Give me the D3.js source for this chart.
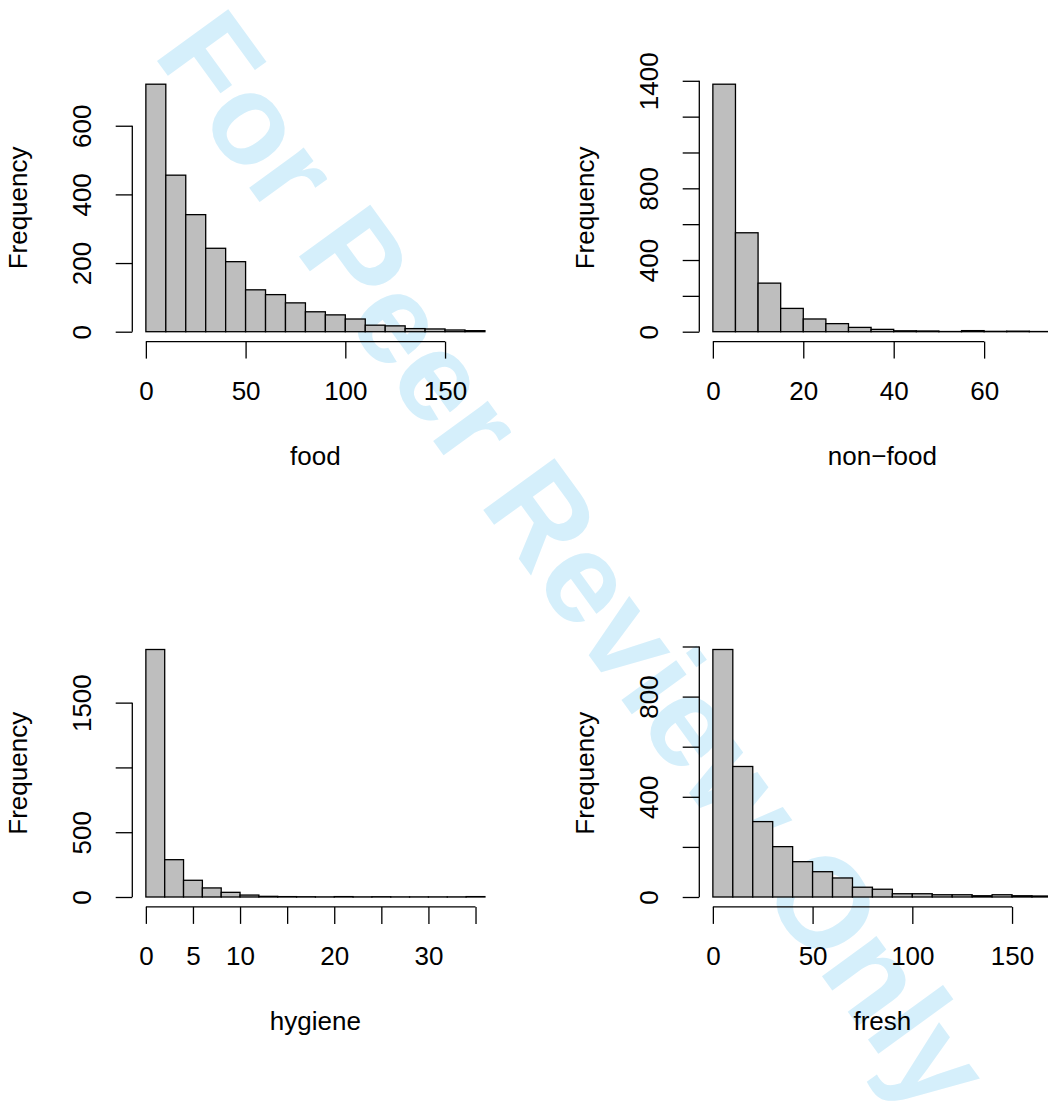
<!DOCTYPE html>
<html>
<head>
<meta charset="utf-8">
<script src="https://cdn.jsdelivr.net/npm/d3@7/dist/d3.min.js"></script>
<style>
  html, body { margin: 0; padding: 0; background: #ffffff; }
  svg { display: block; }
</style>
</head>
<body>
<svg id="chart" width="1048" height="1102"></svg>
<script>
// ---------------- DATA ----------------
const panelTitles = ["food", "non\u2212food", "hygiene", "fresh"];

const foodBreaks = [0,10,20,30,40,50,60,70,80,90,100,110,120,130,140,150,160,170];
const foodCounts = [721,456,341,243,204,122,108,84,58,49,37,19,17,9,8,5,3];
const foodXTicks = [0,50,100,150];
const foodXLabels = ["0","50","100","150"];
const foodYTicks = [0,200,400,600];
const foodYLabels = ["0","200","400","600"];

const nonfoodBreaks = [0,5,10,15,20,25,30,35,40,45,50,55,60,65,70,75];
const nonfoodCounts = [1381,552,271,130,71,45,24,13,5,4,1,6,2,3,1];
const nonfoodXTicks = [0,20,40,60];
const nonfoodXLabels = ["0","20","40","60"];
const nonfoodYTicks = [0,200,400,600,800,1000,1200,1400];
const nonfoodYLabels = ["0","","400","","800","","","1400"];

const hygieneBreaks = [0,2,4,6,8,10,12,14,16,18,20,22,24,26,28,30,32,34,36];
const hygieneCounts = [1910,288,129,70,36,15,5,3,2,1,3,1,2,1,1,1,1,3];
const hygieneXTicks = [0,5,10,15,20,25,30,35];
const hygieneXLabels = ["0","5","10","","20","","30",""];
const hygieneYTicks = [0,500,1000,1500];
const hygieneYLabels = ["0","500","","1500"];

const freshBreaks = [0,10,20,30,40,50,60,70,80,90,100,110,120,130,140,150,160,170];
const freshCounts = [988,521,301,201,141,101,76,39,31,13,13,9,9,5,9,5,4];
const freshXTicks = [0,50,100,150];
const freshXLabels = ["0","50","100","150"];
const freshYTicks = [0,200,400,600,800,1000];
const freshYLabels = ["0","","400","","800",""];

const watermarkText = "For Peer Review Only";

// ---------------- LAYOUT ----------------
const panels = [
  {title: panelTitles[0], breaks: foodBreaks, counts: foodCounts, xt: foodXTicks, xl: foodXLabels, yt: foodYTicks, yl: foodYLabels, col: 0, row: 0},
  {title: panelTitles[1], breaks: nonfoodBreaks, counts: nonfoodCounts, xt: nonfoodXTicks, xl: nonfoodXLabels, yt: nonfoodYTicks, yl: nonfoodYLabels, col: 1, row: 0},
  {title: panelTitles[2], breaks: hygieneBreaks, counts: hygieneCounts, xt: hygieneXTicks, xl: hygieneXLabels, yt: hygieneYTicks, yl: hygieneYLabels, col: 0, row: 1},
  {title: panelTitles[3], breaks: freshBreaks, counts: freshCounts, xt: freshXTicks, xl: freshXLabels, yt: freshYTicks, yl: freshYLabels, col: 1, row: 1}
];

const FONT = "'Liberation Sans', Arial, Helvetica, sans-serif";
const FS = 26;
const LW = 1.3;
const plotW = 366.2, plotH = 267.3;
const left0 = 132.3, colStep = 567;
const top0 = 74.3, rowStep = 565.3;

const svg = d3.select("#chart");
svg.append("rect").attr("width", 1048).attr("height", 1102).attr("fill", "#ffffff");

// watermark (behind)
svg.append("text")
  .attr("transform", "translate(152,54) rotate(54)")
  .attr("font-family", FONT)
  .attr("font-weight", "bold")
  .attr("font-size", 128)
  .attr("fill", "#D5EFFB")
  .text(watermarkText);

panels.forEach(p => {
  const L = left0 + p.col * colStep;
  const T = top0 + p.row * rowStep;
  const B = T + plotH;
  const R = L + plotW;

  const xmin = p.breaks[0], xmax = p.breaks[p.breaks.length - 1];
  const xr = xmax - xmin;
  const x = d3.scaleLinear().domain([xmin - 0.04 * xr, xmax + 0.04 * xr]).range([L, R]);
  const ymax = d3.max(p.counts);
  const y = d3.scaleLinear().domain([-0.04 * ymax, 1.04 * ymax]).range([B, T]);

  const g = svg.append("g");

  // bars
  const bins = p.counts.map((c, i) => ({x0: p.breaks[i], x1: p.breaks[i + 1], n: c}));
  g.selectAll("rect.bar").data(bins).enter().append("rect")
    .attr("class", "bar")
    .attr("x", d => x(d.x0))
    .attr("width", d => x(d.x1) - x(d.x0))
    .attr("y", d => y(d.n))
    .attr("height", d => y(0) - y(d.n))
    .attr("fill", "#BEBEBE")
    .attr("stroke", "#000")
    .attr("stroke-width", LW);

  // x axis
  const xa = d3.axisBottom(x).tickValues(p.xt).tickSize(17).tickSizeOuter(0)
    .tickFormat((d, i) => p.xl[i]);
  const gx = g.append("g").attr("transform", `translate(0,${B})`).call(xa);
  gx.select(".domain").remove();
  gx.selectAll("line").attr("stroke", "#000").attr("stroke-width", LW);
  gx.selectAll("text").attr("y", 58.4).attr("dy", 0)
    .attr("font-family", FONT).attr("font-size", FS).attr("fill", "#000");
  gx.append("line")
    .attr("x1", x(p.xt[0])).attr("x2", x(p.xt[p.xt.length - 1]))
    .attr("y1", 0).attr("y2", 0)
    .attr("stroke", "#000").attr("stroke-width", LW);

  // y axis
  const ya = d3.axisLeft(y).tickValues(p.yt).tickSize(16.6).tickSizeOuter(0)
    .tickFormat((d, i) => p.yl[i]);
  const gy = g.append("g").attr("transform", `translate(${L},0)`).call(ya);
  gy.select(".domain").remove();
  gy.selectAll("line").attr("stroke", "#000").attr("stroke-width", LW);
  gy.selectAll("text")
    .attr("transform", "rotate(-90)")
    .attr("x", 0).attr("y", -41.6).attr("dy", 0)
    .attr("text-anchor", "middle")
    .attr("font-family", FONT).attr("font-size", FS).attr("fill", "#000");
  gy.append("line")
    .attr("x1", 0).attr("x2", 0)
    .attr("y1", y(p.yt[0])).attr("y2", y(p.yt[p.yt.length - 1]))
    .attr("stroke", "#000").attr("stroke-width", LW);

  // titles
  g.append("text")
    .attr("x", (L + R) / 2).attr("y", B + 123.4)
    .attr("text-anchor", "middle")
    .attr("font-family", FONT).attr("font-size", FS).attr("fill", "#000")
    .text(p.title);
  g.append("text")
    .attr("transform", `translate(${L - 105.6},${(T + B) / 2}) rotate(-90)`)
    .attr("text-anchor", "middle")
    .attr("font-family", FONT).attr("font-size", FS).attr("fill", "#000")
    .text("Frequency");
});
</script>
</body>
</html>
